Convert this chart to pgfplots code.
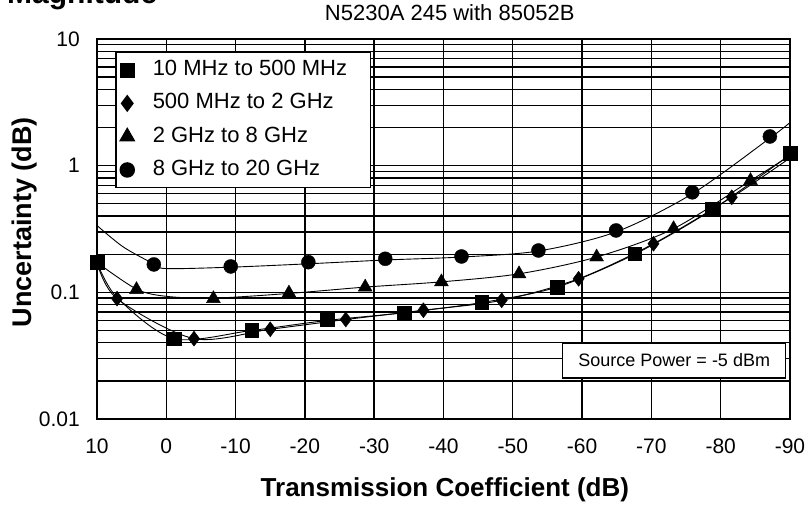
\documentclass[border=0pt]{standalone}
\usepackage{fontspec}
\setmainfont{Liberation Sans}
\usepackage{pgfplots}
\pgfplotsset{compat=1.18}
\begin{document}
\begin{tikzpicture}
\useasboundingbox (0,0) rectangle (809pt,508pt);
\node[anchor=base west, font=\fontsize{30}{36}\selectfont\bfseries, inner sep=0pt] at (7pt,504pt) {Magnitude};
\begin{axis}[
  at={(97pt,89pt)}, anchor=south west, scale only axis,
  width=693pt, height=380pt,
  xmin=-90, xmax=10, x dir=reverse,
  ymode=log, ymin=0.01, ymax=10,
  xtick={-90,-80,-70,-60,-50,-40,-30,-20,-10,0,10},
  xticklabels={-90,-80,-70,-60,-50,-40,-30,-20,-10,0,10},
  ytick={0.01,0.1,1,10}, yticklabels={0.01,0.1,1,10},
  minor ytick={0.02,0.03,0.04,0.05,0.06,0.07,0.08,0.09,0.2,0.3,0.4,0.5,0.6,0.7,0.8,0.9,2,3,4,5,6,7,8,9},
  grid=both,
  major grid style={black, line width=1.4pt},
  minor grid style={black, line width=1.4pt},
  axis line style={black, line width=1.8pt},
  major tick length=0pt, minor tick length=0pt,
  tick label style={font=\fontsize{21}{25}\selectfont},
  xticklabel style={anchor=base, yshift=-34.5pt},
  yticklabel style={anchor=east, inner sep=0pt, xshift=-17pt},
  title={N5230A 245 with 85052B},
  title style={at={(axis description cs:0.509,1.0316)}, anchor=base, inner sep=0pt, font=\fontsize{22}{26}\selectfont},
  xlabel={Transmission Coefficient (dB)},
  xlabel style={at={(axis description cs:0.502,-0.205)}, anchor=base, inner sep=0pt, font=\fontsize{26}{30}\selectfont\bfseries},
  ylabel={Uncertainty (dB)},
  ylabel style={at={(axis description cs:-0.0938,0.518)}, anchor=base, inner sep=0pt, rotate=0, font=\fontsize{27}{31}\selectfont\bfseries},
  clip=false,
  legend cell align=left,
  legend style={at={(rel axis cs:0.026,0.966)}, anchor=north west,
    draw=black, line width=1.5pt, fill=white,
    font=\fontsize{22}{26}\selectfont,
    inner xsep=4.5pt, inner ysep=6.9pt,
    row sep=12.3pt, column sep=18.5pt,
    nodes={inner sep=0pt, text height=16pt, text depth=5pt}},
]
% fitted curves
\addplot[black, line width=0.9pt, smooth, forget plot] coordinates {
(10,0.172) (7.1,0.091) (-1.1,0.0431) (-12.3,0.050) (-23.2,0.060) (-34.3,0.069) (-45.5,0.083) (-56.4,0.110) (-67.6,0.200) (-78.8,0.450) (-90,1.22)};
\addplot[black, line width=0.9pt, smooth, forget plot] coordinates {
(10,0.172) (7.1,0.089) (-4.0,0.0431) (-15,0.0511) (-25.9,0.061) (-37.1,0.0722) (-48.4,0.0865) (-59.5,0.128) (-70.3,0.242) (-81.6,0.563) (-90,1.15)};
\addplot[black, line width=0.9pt, smooth, forget plot] coordinates {
(10,0.172) (4.3,0.106) (0,0.093) (-6.8,0.090) (-17.7,0.098) (-28.7,0.110) (-39.7,0.121) (-50.9,0.140) (-62.1,0.190) (-73.2,0.318) (-84.3,0.762) (-90,1.2)};
\addplot[black, line width=0.9pt, smooth, forget plot] coordinates {
(10,0.337) (6.2,0.228) (1.8,0.168) (0,0.154) (-9.3,0.158) (-20.5,0.168) (-31.6,0.180) (-42.6,0.190) (-53.7,0.212) (-64.9,0.300) (-75.9,0.600) (-87.1,1.65) (-90,2.19)};
% markers
\addplot[only marks, mark=square*, mark size=6.8pt, black] coordinates {
(10,0.173) (-1.1,0.0431) (-12.3,0.0502) (-23.2,0.061) (-34.3,0.0688) (-45.5,0.0838) (-56.4,0.110) (-67.6,0.202) (-78.8,0.456) (-90,1.25)};
\addlegendentry{\makebox[213pt][l]{10 MHz to 500 MHz}}
\addplot[only marks, mark=diamond*, mark size=7.5pt, black] coordinates {
(7.1,0.0892) (-4.0,0.0431) (-15,0.0511) (-25.9,0.061) (-37.1,0.0722) (-48.4,0.0865) (-59.5,0.128) (-70.3,0.242) (-81.6,0.563)};
\addlegendentry{500 MHz to 2 GHz}
\addplot[only marks, mark=triangle*, mark size=8pt, black] coordinates {
(4.3,0.105) (-6.8,0.0892) (-17.7,0.0987) (-28.7,0.110) (-39.7,0.121) (-50.9,0.140) (-62.1,0.190) (-73.2,0.318) (-84.3,0.762)};
\addlegendentry{2 GHz to 8 GHz}
\addplot[only marks, mark=*, mark size=7pt, black] coordinates {
(1.8,0.166) (-9.3,0.160) (-20.5,0.173) (-31.6,0.184) (-42.6,0.192) (-53.7,0.214) (-64.9,0.308) (-75.9,0.616) (-87.1,1.70)};
\addlegendentry{8 GHz to 20 GHz}
\node[draw=black, line width=1.3pt, fill=white, minimum width=223pt, minimum height=35pt, inner sep=0pt, font=\fontsize{18}{21}\selectfont] at (rel axis cs:0.833,0.154) {Source Power = -5 dBm};
\end{axis}
\end{tikzpicture}
\end{document}
